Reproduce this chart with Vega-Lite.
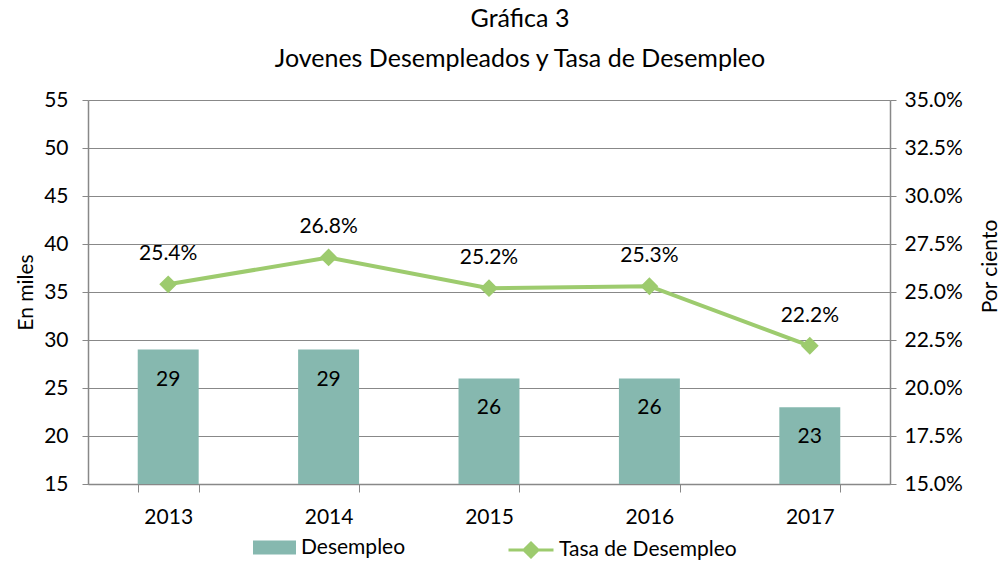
{
  "$schema": "https://vega.github.io/schema/vega-lite/v6.json",
  "width": 802,
  "height": 384,
  "autosize": "none",
  "padding": {"left": 88, "top": 100, "right": 113, "bottom": 81},
  "background": "white",
  "config": {
    "font": "Lato",
    "view": {"stroke": null},
    "axis": {"labelFont": "Lato", "titleFont": "Lato", "labelColor": "#000", "titleColor": "#000", "labelFontSize": 21, "titleFontSize": 21, "titleFontWeight": "normal", "domainColor": "#888", "tickColor": "#888", "gridColor": "#888", "gridOpacity": 1}
  },
  "title": {
    "text": ["Gráfica 3", "Jovenes Desempleados y Tasa de Desempleo"],
    "fontSize": 25, "fontWeight": "normal", "font": "Lato", "color": "#000",
    "lineHeight": 40, "anchor": "middle", "dx": 31, "offset": 17
  },
  "data": {
    "values": [
      {"year": "2013", "desempleo": 29, "tasa": 0.254, "s1": "Desempleo", "s2": "Tasa de Desempleo"},
      {"year": "2014", "desempleo": 29, "tasa": 0.268, "s1": "Desempleo", "s2": "Tasa de Desempleo"},
      {"year": "2015", "desempleo": 26, "tasa": 0.252, "s1": "Desempleo", "s2": "Tasa de Desempleo"},
      {"year": "2016", "desempleo": 26, "tasa": 0.253, "s1": "Desempleo", "s2": "Tasa de Desempleo"},
      {"year": "2017", "desempleo": 23, "tasa": 0.222, "s1": "Desempleo", "s2": "Tasa de Desempleo"}
    ]
  },
  "encoding": {
    "x": {
      "field": "year", "type": "ordinal", "title": null,
      "scale": {"paddingInner": 0.62, "paddingOuter": 0.31},
      "axis": {"labelAngle": 0, "tickBand": "extent", "tickSize": 8, "labelPadding": 14, "domainWidth": 1.5}
    }
  },
  "layer": [
    {
      "encoding": {
        "y": {"field": "desempleo", "type": "quantitative", "title": "En miles",
          "scale": {"domain": [15, 55], "zero": false, "nice": false},
          "axis": {"values": [15, 20, 25, 30, 35, 40, 45, 50, 55], "tickSize": 6, "labelPadding": 14, "titlePadding": 7, "domainWidth": 1.5}}
      },
      "layer": [
        {
          "mark": {"type": "bar", "clip": true},
          "encoding": {
            "fill": {"field": "s1", "type": "nominal", "scale": {"range": ["#86B8AF"]},
              "legend": {"title": null, "orient": "none", "legendX": 165, "legendY": 426, "symbolType": "M-1,-0.33H1V0.33H-1Z", "symbolSize": 1849, "symbolStrokeWidth": 0, "labelFontSize": 21, "labelFont": "Lato", "labelColor": "#000", "labelOffset": 5, "labelLimit": 400}}
          }
        },
        {
          "mark": {"type": "text", "fontSize": 21, "baseline": "middle", "dy": 30, "color": "#000"},
          "encoding": {
            "text": {"field": "desempleo", "type": "quantitative"}
          }
        }
      ]
    },
    {
      "encoding": {
        "y": {"field": "tasa", "type": "quantitative", "title": "Por ciento",
          "scale": {"domain": [0.15, 0.35], "zero": false, "nice": false},
          "axis": {"orient": "right", "format": ".1%", "values": [0.15, 0.175, 0.2, 0.225, 0.25, 0.275, 0.3, 0.325, 0.35], "tickSize": 6, "labelPadding": 8, "titleAngle": 270, "titleX": 100, "titleY": 166, "titleAlign": "center", "titleBaseline": "middle", "grid": false, "domainWidth": 1.5}}
      },
      "layer": [
        {
          "mark": {"type": "line", "strokeWidth": 4, "color": "#9DCB6E",
            "point": {"shape": "diamond", "size": 225, "filled": true, "color": "#9DCB6E"}},
          "encoding": {
            "stroke": {"field": "s2", "type": "nominal", "scale": {"range": ["#9DCB6E"]},
              "legend": {"title": null, "orient": "none", "legendX": 419, "legendY": 426, "symbolType": "M-1,0H1M-0.31,0L0,-0.31L0.31,0L0,0.31Z", "symbolSize": 2025, "symbolStrokeWidth": 3, "symbolFillColor": "#9DCB6E", "labelFontSize": 21, "labelFont": "Lato", "labelColor": "#000", "labelOffset": 4, "labelLimit": 400}}
          }
        },
        {
          "mark": {"type": "text", "fontSize": 21, "baseline": "middle", "dy": -30, "color": "#000"},
          "encoding": {
            "text": {"field": "tasa", "type": "quantitative", "format": ".1%"}
          }
        }
      ]
    }
  ],
  "resolve": {"scale": {"y": "independent", "fill": "independent", "stroke": "independent"}}
}
